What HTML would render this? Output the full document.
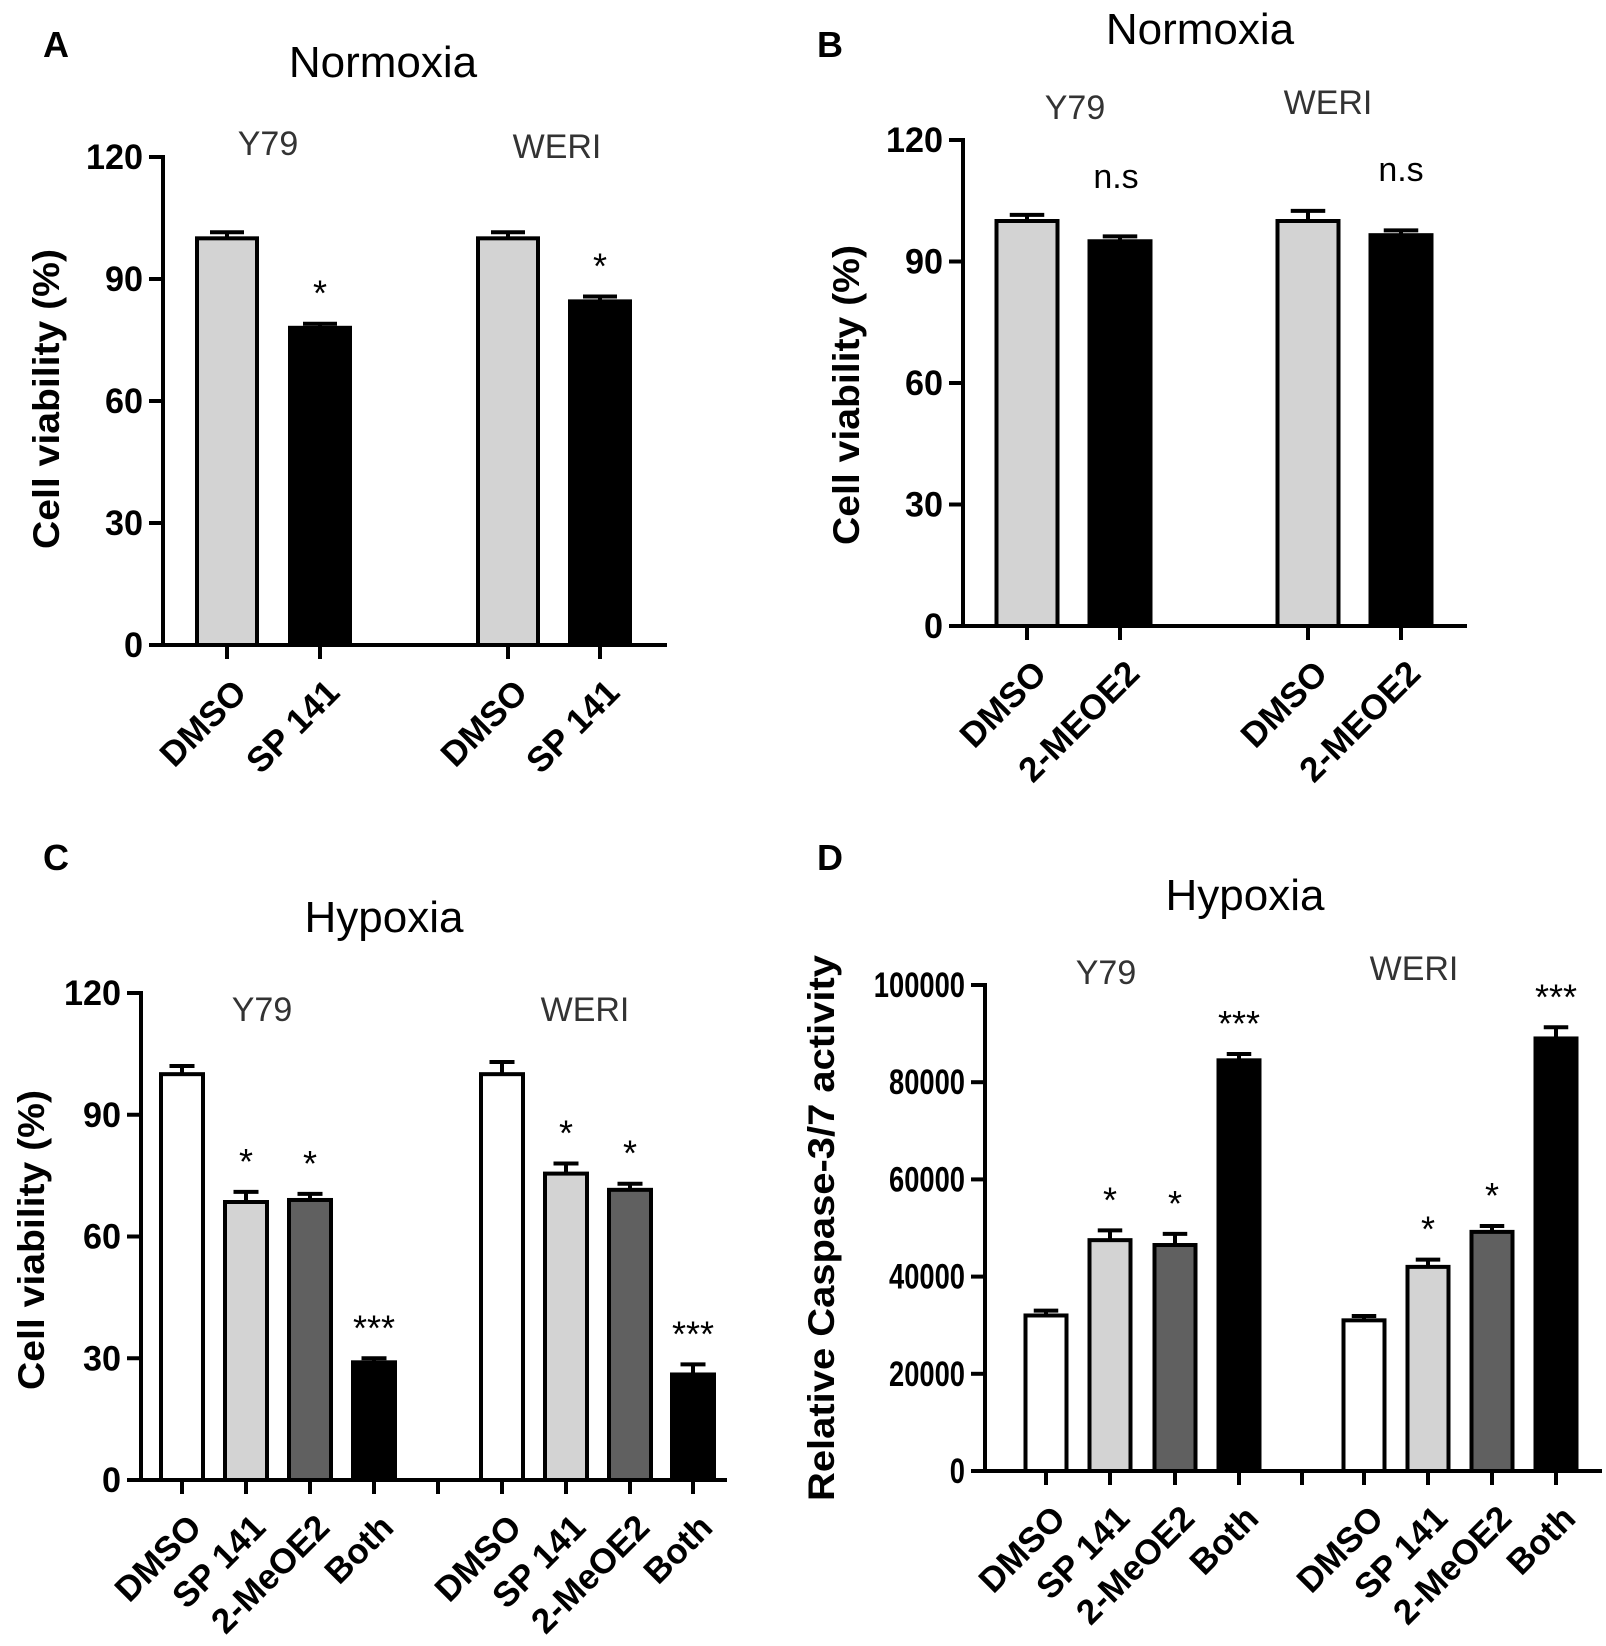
<!DOCTYPE html>
<html><head><meta charset="utf-8"><style>
html,body{margin:0;padding:0;background:#fff;}
svg{display:block;font-family:"Liberation Sans",Arial,sans-serif;}
</style></head><body>
<svg id="fig" width="1606" height="1646" viewBox="0 0 1606 1646" xmlns="http://www.w3.org/2000/svg"></svg>
<script>
// ---- data ----
const catsA = ["DMSO","SP 141","DMSO","SP 141"];
const valsA = [100, 78, 100, 84.5];
const errA  = [1.5, 1, 1.5, 1.2];
const sigA  = ["", "*", "", "*"];
const ticksA = [0,30,60,90,120];

const catsB = ["DMSO","2-MEOE2","DMSO","2-MEOE2"];
const valsB = [100, 95, 100, 96.5];
const errB  = [1.5, 1.2, 2.5, 1.2];
const sigB  = ["", "", "", ""];
const ticksB = [0,30,60,90,120];

const catsC = ["DMSO","SP 141","2-MeOE2","Both","DMSO","SP 141","2-MeOE2","Both"];
const valsC = [100, 68.5, 69, 29, 100, 75.5, 71.5, 26];
const errC  = [2, 2.5, 1.5, 1, 3, 2.5, 1.5, 2.5];
const sigC  = ["", "*", "*", "***", "", "*", "*", "***"];
const ticksC = [0,30,60,90,120];

const catsD = ["DMSO","SP 141","2-MeOE2","Both","DMSO","SP 141","2-MeOE2","Both"];
const valsD = [32000, 47500, 46500, 84500, 31000, 42000, 49200, 89000];
const errD  = [1000, 2000, 2300, 1300, 900, 1500, 1200, 2300];
const sigD  = ["", "*", "*", "***", "", "*", "*", "***"];
const ticksD = [0,20000,40000,60000,80000,100000];

const NS = "http://www.w3.org/2000/svg";
const svg = document.getElementById('fig');
function mk(tag, attrs, parent){
  const e = document.createElementNS(NS, tag);
  for (const k in attrs) e.setAttribute(k, attrs[k]);
  (parent||svg).appendChild(e);
  return e;
}
function txt(parent, x, y, s, size, weight, anchor, fill){
  const t = mk('text', {x:x, y:y, 'font-size':size, 'font-weight':weight||'normal', 'text-anchor':anchor||'middle', fill:fill||'#000'}, parent);
  t.textContent = s;
  return t;
}

function panel(cfg){
  const g = mk('g', {});
  
  
  const yScale = v => cfg.y0 - (v - 0) / cfg.max * (cfg.y0 - cfg.yTop);
  cfg.vals.forEach((v, i) => {
    const cx = cfg.centers[i];
    const top = yScale(v);
    const b = mk('rect', {x: cx - cfg.bw/2, y: top, width: cfg.bw, height: cfg.y0 - top, fill: cfg.fills[i], stroke:'#000', 'stroke-width':4}, g);
    
    
    const et = yScale(v + cfg.err[i]);
    const e1 = mk('line', {x1:cx, x2:cx, y1:top, y2:et, stroke:'#000','stroke-width':4}, g);
    
    
    const e2 = mk('line', {x1:cx - cfg.bw/4 - 2, x2:cx + cfg.bw/4 + 2, y1:et, y2:et, stroke:'#000','stroke-width':4}, g);
    
    
    if (cfg.sig[i]) {
      const s = txt(g, cx, yScale(v + cfg.err[i]) - cfg.sigGap, cfg.sig[i], 36, 'normal');
      
      
    }
    const tk = mk('line', {x1:cx, x2:cx, y1:cfg.y0, y2:cfg.y0+14, stroke:'#000','stroke-width':4}, g);
    
    
    const lx = cx + 4, ly = cfg.y0 + 32;
    const l = mk('text', {x:lx, y:ly, 'font-size':35, 'font-weight':'bold', 'text-anchor':'end', 'dominant-baseline':'hanging', transform:'rotate(-45 '+lx+' '+ly+')'}, g);
    l.textContent = cfg.cats[i];
    
    
  });
  if (cfg.gapTick) {
    const tk = mk('line', {x1:cfg.gapTick, x2:cfg.gapTick, y1:cfg.y0, y2:cfg.y0+14, stroke:'#000','stroke-width':4}, g);
    
    
  }
  const ya = mk('line', {x1:cfg.ax, x2:cfg.ax, y1:cfg.yTop-2, y2:cfg.y0+2, stroke:'#000','stroke-width':4}, g);
  
  
  const xa = mk('line', {x1:cfg.ax-14, x2:cfg.xEnd, y1:cfg.y0, y2:cfg.y0, stroke:'#000','stroke-width':4}, g);
  
  
  cfg.ticks.forEach(t => {
    const y = yScale(t);
    const tl = mk('line', {x1:cfg.ax-14, x2:cfg.ax, y1:y, y2:y, stroke:'#000','stroke-width':4}, g);
    
    
    const s = String(t);
    const lab = txt(g, cfg.ax - 20, y + 12, s, 35, 'bold', 'end');
    lab.setAttribute('textLength', s.length * cfg.digitW);
    lab.setAttribute('lengthAdjust', 'spacingAndGlyphs');
    
    
  });
  const yt = mk('text', {x:0, y:0, 'font-size':37, 'font-weight':'bold', 'text-anchor':'middle',
    transform:'translate('+cfg.ytX+' '+cfg.ytY+') rotate(-90)', textLength:cfg.ytLen, lengthAdjust:'spacingAndGlyphs'}, g);
  yt.textContent = cfg.yTitle;
  
  
  const pl = txt(g, cfg.letter[1], cfg.letter[2], cfg.letter[0], 36, 'bold', 'start');
  
  
  const ti = txt(g, cfg.title[1], cfg.title[2], cfg.title[0], 44, 'normal');
  
  
  cfg.groups.forEach(gr => {
    const t = txt(g, gr[1], gr[2], gr[0], 34, 'normal', 'middle', '#333');
    
    
  });
  (cfg.extra||[]).forEach(ex => {
    const t = txt(g, ex[1], ex[2], ex[0], 34, 'normal');
    
    
  });
}

const LG = '#d3d3d3', DG = '#606060';
panel({name:'panel-a', cats:catsA, vals:valsA, err:errA, sig:sigA, ticks:ticksA, max:120,
  ax:163, y0:645, yTop:157, xEnd:667, bw:60, centers:[227,320,508,600],
  fills:[LG,'#000',LG,'#000'], sigGap:18, digitW:19,
  yTitle:'Cell viability (%)', ytX:59, ytY:399, ytLen:300,
  letter:['A',43,57], title:['Normoxia',383,77], groups:[['Y79',268,155],['WERI',557,158]]});
panel({name:'panel-b', cats:catsB, vals:valsB, err:errB, sig:sigB, ticks:ticksB, max:120,
  ax:963, y0:626, yTop:140, xEnd:1467, bw:61, centers:[1027,1120,1308,1401],
  fills:[LG,'#000',LG,'#000'], sigGap:22, digitW:19,
  yTitle:'Cell viability (%)', ytX:859, ytY:395, ytLen:300,
  letter:['B',817,57], title:['Normoxia',1200,44], groups:[['Y79',1075,119],['WERI',1328,114]],
  extra:[['n.s',1116,188],['n.s',1401,181]]});
panel({name:'panel-c', cats:catsC, vals:valsC, err:errC, sig:sigC, ticks:ticksC, max:120,
  ax:141, y0:1480, yTop:993, xEnd:727, bw:42, centers:[182,246,310,374,502,566,630,693], gapTick:438,
  fills:['#fff',LG,DG,'#000','#fff',LG,DG,'#000'], sigGap:18, digitW:19,
  yTitle:'Cell viability (%)', ytX:44, ytY:1240, ytLen:300,
  letter:['C',43,870], title:['Hypoxia',384,932], groups:[['Y79',262,1021],['WERI',585,1021]]});
panel({name:'panel-d', cats:catsD, vals:valsD, err:errD, sig:sigD, ticks:ticksD, max:100000,
  ax:985, y0:1471, yTop:985, xEnd:1602, bw:41, centers:[1046,1110,1175,1239,1364,1428,1492,1556], gapTick:1302,
  fills:['#fff',LG,DG,'#000','#fff',LG,DG,'#000'], sigGap:18, digitW:15.2,
  yTitle:'Relative Caspase-3/7 activity', ytX:834, ytY:1228, ytLen:546,
  letter:['D',817,870], title:['Hypoxia',1245,910], groups:[['Y79',1106,984],['WERI',1414,980]]});
</script>
</body></html>
